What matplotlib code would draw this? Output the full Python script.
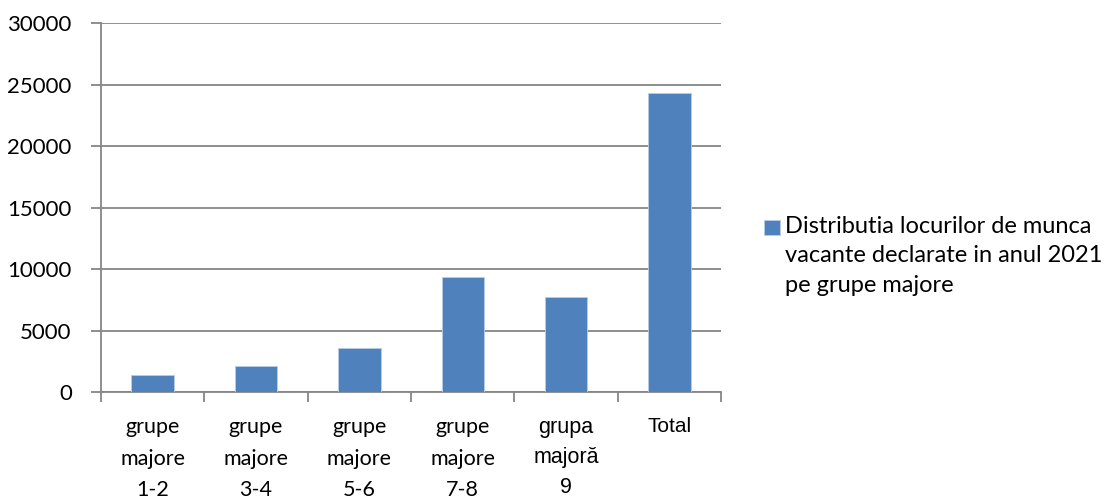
import matplotlib.pyplot as plt
import matplotlib.patches as mpatches

plt.rcParams['font.family'] = ['Lato', 'DejaVu Sans']

# date
categorii = ['grupe\nmajore\n1-2', 'grupe\nmajore\n3-4', 'grupe\nmajore\n5-6',
             'grupe\nmajore\n7-8', 'grupa\nmajoră\n9', 'Total']
valori = [1400, 2100, 3550, 9370, 7730, 24300]
y_ticks = [0, 5000, 10000, 15000, 20000, 25000, 30000]
legenda = 'Distributia locurilor de munca\nvacante declarate in anul 2021\npe grupe majore'

bar_color = '#4F81BD'
grid_color = '#868686'

fig = plt.figure(figsize=(11.18, 4.99), dpi=100)
ax = fig.add_axes([0.0903, 0.2144, 0.5547, 0.7395])

x = list(range(len(categorii)))
ax.bar(x, valori, width=0.41, color=bar_color, edgecolor='#B9CDE5', linewidth=0.6, zorder=3)

ax.set_xlim(-0.5, len(categorii) - 0.5)
ax.set_ylim(0, 30000)
ax.set_yticks(y_ticks)
ax.set_yticklabels([str(v) for v in y_ticks])
ax.yaxis.grid(True, color=grid_color, linewidth=1.3, zorder=0)

# tick-uri intre categorii, etichete centrate
ax.set_xticks([i - 0.5 for i in range(len(categorii) + 1)])
ax.set_xticklabels([])
ax.set_xticks(x, categorii, minor=True)
ax.tick_params(axis='x', which='major', direction='out', length=7, width=1.3, color=grid_color)
ax.tick_params(axis='x', which='minor', length=0, pad=18, labelsize=15.5)
ax.tick_params(axis='y', direction='out', length=7, width=1.3, color=grid_color, pad=14, labelsize=16)

for lbl in ax.get_xticklabels(minor=True):
    lbl.set_linespacing(1.72)
    lbl.set_verticalalignment('top')
    if lbl.get_text().startswith('grupa'):
        lbl.set_fontfamily(['Liberation Sans', 'DejaVu Sans'])
        lbl.set_fontsize(15.5)
        lbl.set_linespacing(1.55)
    if lbl.get_text() == 'Total':
        lbl.set_fontfamily(['Liberation Sans', 'DejaVu Sans'])
        lbl.set_fontsize(15)

for side in ['top', 'right']:
    ax.spines[side].set_visible(False)
ax.spines['left'].set_color(grid_color)
ax.spines['left'].set_linewidth(1.3)
ax.spines['bottom'].set_color(grid_color)
ax.spines['bottom'].set_linewidth(1.3)

# legenda
fig.patches.append(mpatches.Rectangle((764 / 1118, 1 - 235 / 499), 16 / 1118, 15 / 499,
                                      transform=fig.transFigure, facecolor=bar_color,
                                      edgecolor='#B9CDE5', linewidth=0.6))
fig.text(785 / 1118, 1 - 216 / 499, legenda, ha='left', va='top', fontsize=17, linespacing=1.5)

fig.savefig('out.png', dpi=100)
